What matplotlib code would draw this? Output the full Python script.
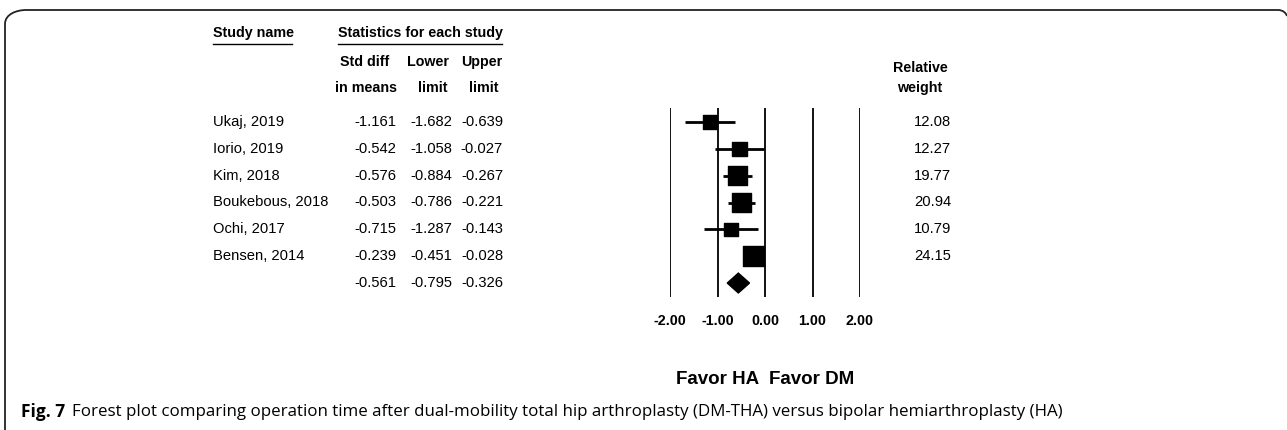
import matplotlib
matplotlib.use("Agg")
import matplotlib.pyplot as plt
from matplotlib.path import Path
from matplotlib.patches import PathPatch, Polygon
import numpy as np

studies = ["Ukaj, 2019", "Iorio, 2019", "Kim, 2018", "Boukebous, 2018",
           "Ochi, 2017", "Bensen, 2014"]
smd = [-1.161, -0.542, -0.576, -0.503, -0.715, -0.239]
lower = [-1.682, -1.058, -0.884, -0.786, -1.287, -0.451]
upper = [-0.639, -0.027, -0.267, -0.221, -0.143, -0.028]
weight = [12.08, 12.27, 19.77, 20.94, 10.79, 24.15]
pooled = (-0.561, -0.795, -0.326)
xticks = [-2.0, -1.0, 0.0, 1.0, 2.0]

W, H = 1287, 430
fig = plt.figure(figsize=(W / 100, H / 100), dpi=100)
plt.rcParams['font.family'] = ['Liberation Sans', 'DejaVu Sans']

# background axes in pixel units for the table text and frame
bg = fig.add_axes([0, 0, 1, 1])
bg.set_xlim(0, W)
bg.set_ylim(H, 0)
bg.axis("off")

# frame: left edge and top edge with rounded corners
verts = [(5, 432), (5, 24), (5, 14), (17, 10), (26, 10), (1278, 10),
         (1283, 10), (1286, 13), (1287, 16)]
codes = [Path.MOVETO, Path.LINETO, Path.CURVE4, Path.CURVE4, Path.CURVE4,
         Path.LINETO, Path.CURVE4, Path.CURVE4, Path.CURVE4]
bg.add_patch(PathPatch(Path(verts, codes), fill=False, lw=1.3, color="#222222"))

fs = 10.6
hfs = 10.3
# headers
bg.text(213, 33, "Study name", fontsize=hfs, fontweight="bold", va="center")
bg.plot([213, 292], [44, 44], color="black", lw=1)
bg.text(420, 33, "Statistics for each study", fontsize=hfs, fontweight="bold",
        va="center", ha="center")
bg.plot([338, 502], [44, 44], color="black", lw=1)
for xc1, xc2, l1, l2 in [(365, 366, "Std diff", "in means"),
                         (428, 433, "Lower", "limit"),
                         (482, 484, "Upper", "limit")]:
    bg.text(xc1, 62, l1, fontsize=hfs, fontweight="bold", ha="center", va="center")
    bg.text(xc2, 88, l2, fontsize=hfs, fontweight="bold", ha="center", va="center")
bg.text(920, 68, "Relative", fontsize=hfs, fontweight="bold", ha="center", va="center")
bg.text(920, 88, "weight", fontsize=hfs, fontweight="bold", ha="center", va="center")

# forest axes
ax = fig.add_axes([670 / W, (H - 297) / H, 190 / W, 189 / H])
ax.set_xlim(-2, 2)
ax.set_ylim(6.52, -0.52)
for s in ax.spines.values():
    s.set_visible(False)
for xv in xticks:
    ax.axvline(xv, color="black", lw=1.3)
ax.set_yticks([])
ax.set_xticks(xticks)
ax.set_xticklabels(["%.2f" % v for v in xticks], fontweight="bold", fontsize=hfs)
ax.tick_params(axis="x", length=0, pad=12)

rows = np.arange(len(studies))
ax.hlines(rows, lower, upper, color="black", lw=2)
sizes = 3.0 * np.sqrt(weight)
ax.scatter(smd, rows, marker="s", s=sizes ** 2, color="black", zorder=3)
ax.add_patch(Polygon([(pooled[1], 6), (pooled[0], 5.63), (pooled[2], 6),
                      (pooled[0], 6.37)], closed=True, color="black"))

# table text
for i in range(len(studies) + 1):
    yy = bg.transData.inverted().transform(ax.transData.transform((0, i)))[1]
    if i < len(studies):
        bg.text(213, yy, studies[i], fontsize=fs, va="center")
        vals = (smd[i], lower[i], upper[i])
        bg.text(951, yy, "%.2f" % weight[i], fontsize=fs, va="center", ha="right")
    else:
        vals = pooled
    for xr, v in zip([396, 452, 503], vals):
        bg.text(xr, yy, "%.3f" % v, fontsize=fs, va="center", ha="right")

bg.text(717.5, 380, "Favor HA", fontsize=13.5, fontweight="bold", ha="center", va="center")
bg.text(811.5, 380, "Favor DM", fontsize=13.5, fontweight="bold", ha="center", va="center")

bg.text(21, 412, "Fig. 7", fontsize=12.5, fontweight="bold", va="center",
        family=["Open Sans", "DejaVu Sans"])
bg.text(72, 412, "Forest plot comparing operation time after dual-mobility total hip "
        "arthroplasty (DM-THA) versus bipolar hemiarthroplasty (HA)",
        fontsize=12.2, va="center", family=["Open Sans", "DejaVu Sans"])

fig.savefig("out.png", dpi=100)
